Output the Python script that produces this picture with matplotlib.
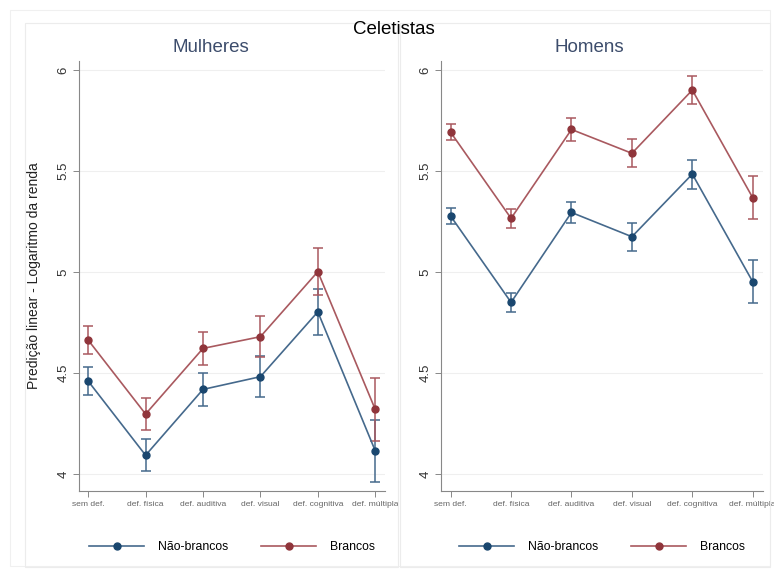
import matplotlib
matplotlib.use("Agg")
from matplotlib import pyplot as plt
from matplotlib.lines import Line2D
from matplotlib.patches import Rectangle

plt.rcParams["font.family"] = ["Liberation Sans", "DejaVu Sans"]

categorias = ["sem def.", "def. física", "def. auditiva", "def. visual", "def. cognitiva", "def. múltipla"]

# Mulheres
mulheres_nb = [4.46, 4.093, 4.419, 4.482, 4.803, 4.115]
mulheres_nb_ic = [0.068, 0.078, 0.083, 0.10, 0.114, 0.155]
mulheres_br = [4.663, 4.297, 4.622, 4.68, 5.002, 4.32]
mulheres_br_ic = [0.07, 0.08, 0.083, 0.10, 0.115, 0.157]

# Homens
homens_nb = [5.277, 4.85, 5.295, 5.175, 5.485, 4.952]
homens_nb_ic = [0.04, 0.048, 0.054, 0.07, 0.072, 0.107]
homens_br = [5.692, 5.266, 5.706, 5.588, 5.901, 5.368]
homens_br_ic = [0.04, 0.048, 0.057, 0.069, 0.07, 0.107]

yticks = [4, 4.5, 5, 5.5, 6]
ytick_labels = ["4", "4.5", "5", "5.5", "6"]

azul = "#1a476f"
azul_linha = "#45698c"
verm = "#90353b"
verm_linha = "#a9595f"

W, H = 774, 570
fig = plt.figure(figsize=(W / 100, H / 100), dpi=100)

# moldura externa e dos paineis
fig.add_artist(Rectangle((10 / W, 1 - 566 / H), 760 / W, 556 / H, transform=fig.transFigure,
                         fill=False, ec="#f0f0f0", lw=0.8))
fig.add_artist(Rectangle((25 / W, 1 - 567 / H), 373 / W, 544 / H, transform=fig.transFigure,
                         fill=False, ec="#ececec", lw=0.8))
fig.add_artist(Rectangle((400 / W, 1 - 567 / H), 370 / W, 544 / H, transform=fig.transFigure,
                         fill=False, ec="#ececec", lw=0.8))


def painel(rect, titulo, xtit, nb, nb_ic, br, br_ic):
    ax = fig.add_axes(rect)
    x = list(range(1, len(categorias) + 1))
    ax.errorbar(x, nb, yerr=nb_ic, color=azul_linha, ecolor=azul_linha, lw=1.2, elinewidth=1.1,
                capsize=3.5, capthick=1.1, marker="o", ms=5, mfc=azul, mec=azul, zorder=3)
    ax.errorbar(x, br, yerr=br_ic, color=verm_linha, ecolor=verm_linha, lw=1.2, elinewidth=1.1,
                capsize=3.5, capthick=1.1, marker="o", ms=5, mfc=verm, mec=verm, zorder=3)
    ax.set_xlim(0.84, 6.17)
    ax.set_ylim(3.916, 6.045)
    ax.set_xticks(x)
    ax.set_xticklabels(categorias, fontsize=6.1, color="#666666")
    ax.set_yticks(yticks)
    ax.set_yticklabels(ytick_labels, fontsize=9.5, color="#333333", rotation=90, va="center")
    ax.tick_params(axis="both", length=4, width=0.7, color="#888888")
    ax.tick_params(axis="x", pad=3)
    ax.tick_params(axis="y", pad=3)
    ax.grid(axis="y", color="#efefef", lw=0.8)
    ax.set_axisbelow(True)
    for s in ["top", "right"]:
        ax.spines[s].set_visible(False)
    for s in ["left", "bottom"]:
        ax.spines[s].set_color("#888888")
        ax.spines[s].set_linewidth(0.8)
    fig.text(xtit / W, 1 - 48 / H, titulo, ha="center", va="center", fontsize=13.5, color="#3d4d6c")
    handles = [Line2D([], [], color=azul_linha, lw=1.2, marker="o", ms=5, mfc=azul, mec=azul),
               Line2D([], [], color=verm_linha, lw=1.2, marker="o", ms=5, mfc=verm, mec=verm)]
    ax.legend(handles, ["Não-brancos", "Brancos"], loc="center", bbox_to_anchor=(0.5, -0.13),
              ncol=2, frameon=False, fontsize=8.8, handlelength=4.5, columnspacing=2.7,
              handletextpad=1.1)
    return ax


ax1 = painel([79 / W, 1 - 491 / H, 306 / W, 430 / H], "Mulheres", 211,
             mulheres_nb, mulheres_nb_ic, mulheres_br, mulheres_br_ic)
ax1.set_ylabel("Predição linear - Logaritmo da renda", fontsize=10, color="#222222", labelpad=12)

ax2 = painel([441 / W, 1 - 491 / H, 322 / W, 430 / H], "Homens", 589,
             homens_nb, homens_nb_ic, homens_br, homens_br_ic)

fig.text(394 / W, 1 - 30 / H, "Celetistas", ha="center", va="center", fontsize=13.5, color="black")

fig.savefig("out.png", dpi=100)
